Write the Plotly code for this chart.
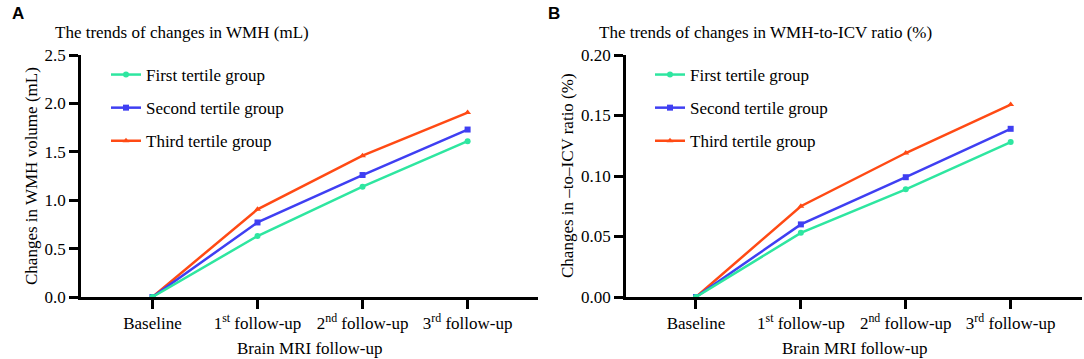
import plotly.graph_objects as go

categories = ["Baseline", "1<sup>st</sup> follow-up", "2<sup>nd</sup> follow-up", "3<sup>rd</sup> follow-up"]
group_names = ["First tertile group", "Second tertile group", "Third tertile group"]

wmh_first = [0.0, 0.63, 1.14, 1.61]
wmh_second = [0.0, 0.77, 1.26, 1.73]
wmh_third = [0.0, 0.906, 1.46, 1.905]

ratio_first = [0.0, 0.053, 0.089, 0.128]
ratio_second = [0.0, 0.060, 0.099, 0.139]
ratio_third = [0.0, 0.075, 0.119, 0.159]

colors = ["#2EE6A0", "#3F3FF2", "#FF4A14"]
symbols = ["circle", "square", "triangle-up"]

W, H = 1084, 359
SERIF = "Liberation Serif, Times New Roman, Times, serif"
SANS = "Liberation Sans, Arial, Helvetica, sans-serif"
FS = 17

fig = go.Figure()

panels = [
    (["x", "y"], [wmh_first, wmh_second, wmh_third], "legend", "a"),
    (["x2", "y2"], [ratio_first, ratio_second, ratio_third], "legend2", "b"),
]

for (xa, ya), series, leg, tag in panels:
    # draw third first so first sits on top
    for i in [2, 1, 0]:
        fig.add_trace(go.Scatter(
            x=categories, y=series[i], name=group_names[i],
            mode="lines+markers", xaxis=xa, yaxis=ya, legend=leg,
            legendrank=i + 1, legendgroup=f"{tag}{i}",
            line=dict(color=colors[i], width=2.5),
            marker=dict(symbol=symbols[i], size=6, color=colors[i]),
        ))

def px_x(p):
    return p / W

def px_y(p):
    return 1 - p / H

axis_common = dict(
    showline=True, linecolor="black", linewidth=2.5, ticks="outside",
    ticklen=9, tickwidth=2.5, tickcolor="black", showgrid=False, zeroline=False,
    tickfont=dict(family=SERIF, size=FS, color="black"), automargin=False,
)

fig.update_layout(
    width=W, height=H,
    margin=dict(l=0, r=0, t=0, b=0),
    plot_bgcolor="white", paper_bgcolor="white",
    font=dict(family=SERIF, size=FS, color="black"),
    xaxis=dict(domain=[px_x(81), px_x(538)], anchor="y", type="category",
               range=[-0.68, 3.67], **axis_common),
    yaxis=dict(domain=[px_y(297), px_y(55)], anchor="x", range=[0, 2.5],
               tickvals=[0, 0.5, 1.0, 1.5, 2.0, 2.5],
               ticktext=["0.0", "0.5", "1.0", "1.5", "2.0", "2.5"], **axis_common),
    xaxis2=dict(domain=[px_x(626), px_x(1082)], anchor="y2", type="category",
                range=[-0.667, 3.68], **axis_common),
    yaxis2=dict(domain=[px_y(297), px_y(55)], anchor="x2", range=[0, 0.2],
                tickvals=[0, 0.05, 0.10, 0.15, 0.20],
                ticktext=["0.00", "0.05", "0.10", "0.15", "0.20"], **axis_common),
    legend=dict(x=px_x(106), y=px_y(57), xanchor="left", yanchor="top",
                font=dict(family=SERIF, size=FS, color="black"), bgcolor="rgba(0,0,0,0)",
                tracegroupgap=8),
    legend2=dict(x=px_x(650), y=px_y(57), xanchor="left", yanchor="top",
                 font=dict(family=SERIF, size=FS, color="black"), bgcolor="rgba(0,0,0,0)",
                 tracegroupgap=8),
)

annotations = [
    dict(text="<b>A</b>", x=px_x(10), y=px_y(14), xanchor="left", yanchor="middle",
         font=dict(family=SANS, size=17, color="black")),
    dict(text="<b>B</b>", x=px_x(546), y=px_y(14), xanchor="left", yanchor="middle",
         font=dict(family=SANS, size=17, color="black")),
    dict(text="The trends of changes in WMH (mL)", x=px_x(53), y=px_y(33),
         xanchor="left", yanchor="middle"),
    dict(text="The trends of changes in WMH-to-ICV ratio (%)", x=px_x(597), y=px_y(33),
         xanchor="left", yanchor="middle"),
    dict(text="Changes in WMH volume (mL)", x=px_x(32), y=px_y(176), textangle=-90,
         xanchor="center", yanchor="middle"),
    dict(text="Changes in \u2013to\u2013ICV ratio (%)", x=px_x(568), y=px_y(176), textangle=-90,
         xanchor="center", yanchor="middle"),
    dict(text="Brain MRI follow-up", x=px_x(309), y=px_y(348),
         xanchor="center", yanchor="middle"),
    dict(text="Brain MRI follow-up", x=px_x(854), y=px_y(348),
         xanchor="center", yanchor="middle"),
]
for a in annotations:
    a.update(xref="paper", yref="paper", showarrow=False)
    a.setdefault("font", dict(family=SERIF, size=FS, color="black"))
fig.update_layout(annotations=annotations)

fig.write_html(
    "out.html",
    config={"displayModeBar": False},
    post_script="document.body.style.margin='0';document.body.style.padding='0';",
)
